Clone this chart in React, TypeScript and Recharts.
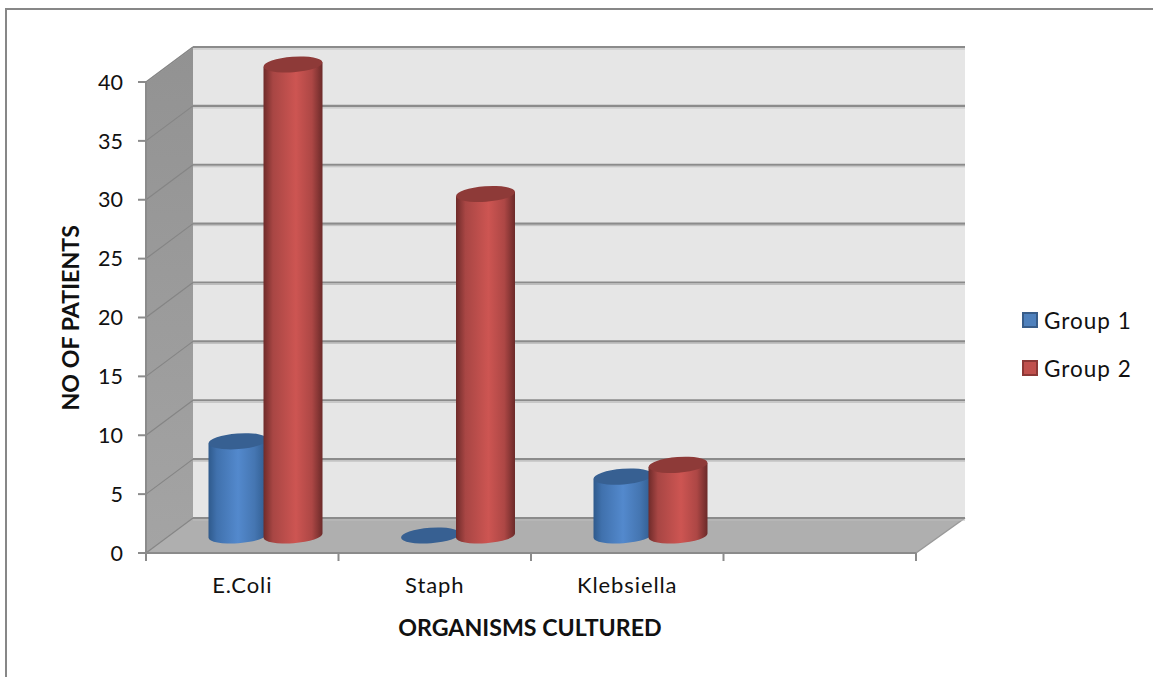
import { BarChart, Bar, XAxis, YAxis, CartesianGrid, Legend } from "recharts";

const categories = ["E.Coli", "Staph", "Klebsiella", ""];
const group1 = [8, 0, 5, null];
const group2 = [40, 29, 6, null];
const yTicks = [0, 5, 10, 15, 20, 25, 30, 35, 40];

const chartData = categories.map((name, i) => ({
  name,
  group1: group1[i],
  group2: group2[i],
}));

const WIDTH = 1153;
const HEIGHT = 677;
const LEGEND_WIDTH = 125;
const margin = { top: 82, right: 237, bottom: 124, left: 146 };
const plotWidth = WIDTH - margin.left - margin.right;
const plotHeight = HEIGHT - margin.top - margin.bottom;
const bandWidth = plotWidth / categories.length;

// fake 3D box depth
const DEPTH_X = 47;
const DEPTH_Y = 35;

const FONT = "Lato, Carlito, Calibri, sans-serif";
const LINE = "#8b8b8b";

// side wall, back wall and floor of the box
function Walls() {
  const left = margin.left;
  const right = left + plotWidth;
  const top = margin.top;
  const bottom = top + plotHeight;
  return (
    <svg
      width={WIDTH}
      height={HEIGHT}
      style={{ position: "absolute", left: 0, top: 0 }}
    >
      <defs>
        <linearGradient id="sideWall" x1="0" y1="0" x2="0" y2="1">
          <stop offset="0%" stopColor="#929292" />
          <stop offset="100%" stopColor="#a4a4a4" />
        </linearGradient>
      </defs>
      <polygon
        points={`${left},${top} ${left + DEPTH_X},${top - DEPTH_Y} ${left + DEPTH_X},${bottom - DEPTH_Y} ${left},${bottom}`}
        fill="url(#sideWall)"
      />
      <rect
        x={left + DEPTH_X}
        y={top - DEPTH_Y}
        width={plotWidth + 2}
        height={plotHeight}
        fill="#e6e6e6"
      />
      <polygon
        points={`${left},${bottom} ${left + DEPTH_X},${bottom - DEPTH_Y} ${right + DEPTH_X + 2},${bottom - DEPTH_Y} ${right},${bottom}`}
        fill="#afafaf"
      />
      <line
        x1={right}
        y1={bottom}
        x2={right + DEPTH_X + 2}
        y2={bottom - DEPTH_Y}
        stroke="#999"
        strokeWidth={1.5}
      />
      <line
        x1={left}
        y1={top}
        x2={left + DEPTH_X}
        y2={top - DEPTH_Y}
        stroke="#b5b5b5"
        strokeWidth={1.5}
      />
    </svg>
  );
}

// gridline wraps from the y axis across the side wall and along the back wall
function wallGridLine(props: any) {
  const { x1, x2, y1 } = props;
  const backY = y1 - DEPTH_Y;
  return (
    <g key={props.key ?? `grid-${y1}`}>
      <line
        x1={x1}
        y1={y1}
        x2={x1 + DEPTH_X}
        y2={backY}
        stroke="#858585"
        strokeWidth={1.2}
      />
      <line
        x1={x1 + DEPTH_X}
        y1={backY + 2}
        x2={x2 + DEPTH_X + 2}
        y2={backY + 2}
        stroke="#bdbdbd"
        strokeWidth={1}
      />
      <line
        x1={x1 + DEPTH_X}
        y1={backY}
        x2={x2 + DEPTH_X + 2}
        y2={backY}
        stroke={LINE}
        strokeWidth={2.2}
      />
    </g>
  );
}

function Cylinder(props: any) {
  const { x, y, width, height, gradient, capFill } = props;
  if (x == null || y == null) return null;
  const rx = width / 2;
  const ry = 7.8;
  const tilt = 2.2; // ellipses lean up to the right
  const cx = x + rx + DEPTH_X / 2;
  const topY = y - DEPTH_Y / 2;
  const bottomY = y + height - DEPTH_Y / 2;
  const xl = cx - rx;
  const xr = cx + rx;
  const body =
    `M${xl},${topY + tilt} L${xl},${bottomY + tilt} ` +
    `A${rx},${ry} -4.3 0 0 ${xr},${bottomY - tilt} ` +
    `L${xr},${topY - tilt} Z`;
  return (
    <g>
      {height > 0 && <path d={body} fill={`url(#${gradient})`} />}
      <ellipse
        cx={cx}
        cy={topY}
        rx={rx}
        ry={ry}
        fill={capFill}
        transform={`rotate(-4.3 ${cx} ${topY})`}
      />
    </g>
  );
}

function CategoryTick(props: any) {
  const { x, y, payload, index } = props;
  const tickLeft = x - bandWidth / 2;
  const tickRight = x + bandWidth / 2;
  const axisY = margin.top + plotHeight;
  return (
    <g>
      <line x1={tickLeft} y1={axisY} x2={tickLeft} y2={axisY + 8} stroke={LINE} strokeWidth={2} />
      {index === categories.length - 1 && (
        <line x1={tickRight} y1={axisY} x2={tickRight} y2={axisY + 8} stroke={LINE} strokeWidth={2} />
      )}
      <text
        x={x}
        y={y}
        dy={32}
        textAnchor="middle"
        fontFamily={FONT}
        fontSize={22}
        letterSpacing={0.9}
        fill="#111"
      >
        {payload.value}
      </text>
    </g>
  );
}

function LegendBox() {
  const items = [
    { label: "Group 1", fill: "#4f81bd", stroke: "#385d8a" },
    { label: "Group 2", fill: "#c0504d", stroke: "#8c3836" },
  ];
  return (
    <div style={{ fontFamily: FONT, fontSize: 22.5, letterSpacing: 1, color: "#111" }}>
      {items.map((it) => (
        <div
          key={it.label}
          style={{ display: "flex", alignItems: "center", height: 48 }}
        >
          <span
            style={{
              width: 12,
              height: 12,
              background: it.fill,
              border: `2px solid ${it.stroke}`,
              marginRight: 6,
            }}
          />
          {it.label}
        </div>
      ))}
    </div>
  );
}

export default function App() {
  return (
    <div
      style={{
        position: "absolute",
        left: 0,
        top: 0,
        width: WIDTH,
        height: HEIGHT,
        background: "#fff",
        overflow: "hidden",
      }}
    >
      {/* outer chart frame, only top and left edges show */}
      <div
        style={{
          position: "absolute",
          left: 5,
          top: 8,
          width: WIDTH,
          height: HEIGHT,
          borderTop: "2.5px solid #878787",
          borderLeft: "2.5px solid #878787",
        }}
      />
      <Walls />
      <div style={{ position: "absolute", left: 0, top: 0 }}>
        <BarChart
          width={WIDTH}
          height={HEIGHT}
          data={chartData}
          margin={{
            top: margin.top,
            right: margin.right - LEGEND_WIDTH,
            bottom: margin.bottom - 60,
            left: margin.left - 80,
          }}
          barSize={59}
          barGap={-4}
        >
          <defs>
            <linearGradient id="blueBody" x1="0" y1="0" x2="1" y2="0">
              <stop offset="0%" stopColor="#2f5a8c" />
              <stop offset="14%" stopColor="#4071ad" />
              <stop offset="50%" stopColor="#5389cd" />
              <stop offset="78%" stopColor="#4576b2" />
              <stop offset="100%" stopColor="#2f5a8c" />
            </linearGradient>
            <linearGradient id="redBody" x1="0" y1="0" x2="1" y2="0">
              <stop offset="0%" stopColor="#6f2b2a" />
              <stop offset="16%" stopColor="#a84644" />
              <stop offset="55%" stopColor="#cd5552" />
              <stop offset="82%" stopColor="#ad4745" />
              <stop offset="100%" stopColor="#6b2a29" />
            </linearGradient>
          </defs>
          <CartesianGrid horizontal={wallGridLine} vertical={false} />
          <XAxis
            dataKey="name"
            height={60}
            axisLine={{ stroke: LINE, strokeWidth: 2 }}
            tickLine={false}
            tick={<CategoryTick />}
            interval={0}
            label={{
              value: "ORGANISMS CULTURED",
              position: "insideBottom",
              offset: -23,
              dx: -1,
              style: { fontFamily: FONT, fontSize: 23.2, fontWeight: 700, fill: "#111" },
            }}
          />
          <YAxis
            width={80}
            domain={[0, 40]}
            ticks={yTicks}
            interval={0}
            axisLine={{ stroke: LINE, strokeWidth: 2 }}
            tickLine={{ stroke: LINE, strokeWidth: 2 }}
            tickSize={8}
            tickMargin={15}
            tick={{ fontFamily: FONT, fontSize: 21.5, fill: "#111" }}
            label={{
              value: "NO OF PATIENTS",
              angle: -90,
              position: "insideLeft",
              offset: 5,
              dy: 93,
              style: { fontFamily: FONT, fontSize: 23.2, fontWeight: 700, fill: "#111" },
            }}
          />
          <Legend
            layout="vertical"
            align="right"
            verticalAlign="top"
            content={<LegendBox />}
            wrapperStyle={{ position: "absolute", left: 1022, top: 296, width: LEGEND_WIDTH }}
          />
          <Bar
            dataKey="group1"
            isAnimationActive={false}
            shape={<Cylinder gradient="blueBody" capFill="#376092" />}
          />
          <Bar
            dataKey="group2"
            isAnimationActive={false}
            shape={<Cylinder gradient="redBody" capFill="#8e3a38" />}
          />
        </BarChart>
      </div>
    </div>
  );
}
